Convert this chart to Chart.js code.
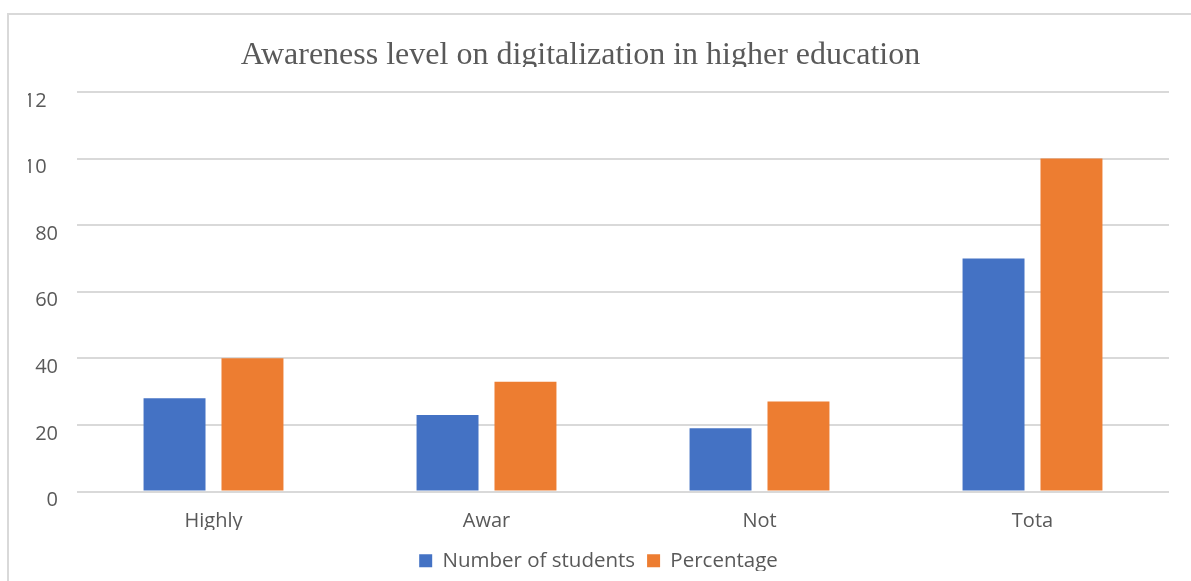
<!DOCTYPE html>
<html>
<head>
<meta charset="utf-8">
<script src="https://cdn.jsdelivr.net/npm/chart.js@4.4.1/dist/chart.umd.min.js"></script>
<style>
  html, body { margin: 0; padding: 0; background: #fff; overflow: hidden; }
  #frame {
    position: absolute; left: 7px; top: 13px; width: 1300px; height: 700px;
    border-left: 2px solid #d9d9d9; border-top: 2px solid #d9d9d9;
  }
  #wrap { position: absolute; left: 0; top: 0; width: 1191px; height: 581px; }
</style>
</head>
<body>
<div id="frame"></div>
<div id="wrap"><canvas id="c" width="1191" height="581"></canvas></div>
<script>
// Survey categories and the two series
const categories = ['Highly', 'Awar', 'Not', 'Tota'];
const studentCounts = [28, 23, 19, 70];
const percentages = [40, 33, 27, 100];
const seriesNames = ['Number of students', 'Percentage'];

// Value axis ticks and the labels printed beside them
const tickValues = [0, 20, 40, 60, 80, 100, 120];
const tickLabels = ['0', '20', '40', '60', '80', '10', '12'];

const chartTitle = 'Awareness level on digitalization in higher education';

const textColor = '#595959';
const gridColor = '#d9d9d9';

Chart.defaults.font.family = '"Open Sans", sans-serif';
Chart.defaults.color = textColor;

// Serif heading, cropped just under its baseline
const headingPlugin = {
  id: 'heading',
  afterDraw(chart) {
    const ctx = chart.ctx;
    ctx.save();
    ctx.beginPath();
    ctx.rect(0, 0, chart.width, 67);
    ctx.clip();
    ctx.font = '32px "Liberation Serif", "Times New Roman", serif';
    ctx.fillStyle = textColor;
    ctx.textAlign = 'center';
    ctx.textBaseline = 'alphabetic';
    ctx.fillText(chartTitle, 580.5, 63.5);
    ctx.restore();
  }
};

// Category and legend text boxes are cut off at a fixed height
const textBoxCrop = {
  id: 'textBoxCrop',
  afterDraw(chart) {
    const ctx = chart.ctx;
    const area = chart.chartArea;
    const lg = chart.legend;
    ctx.save();
    ctx.fillStyle = '#ffffff';
    ctx.fillRect(area.left, 530, area.right - area.left, 8);
    ctx.fillRect(lg.left, 571, lg.right - lg.left, chart.height - 571);
    ctx.restore();
  }
};

new Chart(document.getElementById('c'), {
  type: 'bar',
  data: {
    labels: categories,
    datasets: [
      {
        label: seriesNames[0],
        data: studentCounts,
        backgroundColor: '#4472C4',
        categoryPercentage: 0.571,
        barPercentage: 0.795
      },
      {
        label: seriesNames[1],
        data: percentages,
        backgroundColor: '#ED7D31',
        categoryPercentage: 0.571,
        barPercentage: 0.795
      }
    ]
  },
  options: {
    responsive: false,
    animation: false,
    layout: { padding: { top: 92, left: 28, right: 22, bottom: 0 } },
    plugins: {
      title: { display: false },
      tooltip: { enabled: false },
      legend: {
        position: 'bottom',
        labels: {
          boxWidth: 13,
          boxHeight: 13,
          padding: 12,
          color: textColor,
          font: { size: 20.5 }
        }
      }
    },
    scales: {
      x: {
        grid: { display: false, drawTicks: false },
        border: { display: false },
        ticks: { padding: 18, color: textColor, font: { size: 20 } },
        afterFit(scale) { scale.height = 47; }
      },
      y: {
        min: 0,
        max: 120,
        afterBuildTicks(scale) { scale.ticks = tickValues.map(v => ({ value: v })); },
        grid: { color: gridColor, lineWidth: 2, drawTicks: false },
        border: { display: false },
        ticks: {
          padding: 19,
          labelOffset: 9,
          color: textColor,
          font: { size: 20 },
          // short labels keep the digit columns of the full number
          callback(value) {
            const i = tickValues.indexOf(value);
            const s = i >= 0 ? tickLabels[i] : String(value);
            return s.padEnd(String(value).length, '\u2007');
          }
        },
        afterFit(scale) { scale.width = 49; }
      }
    }
  },
  plugins: [headingPlugin, textBoxCrop]
});
</script>
</body>
</html>
